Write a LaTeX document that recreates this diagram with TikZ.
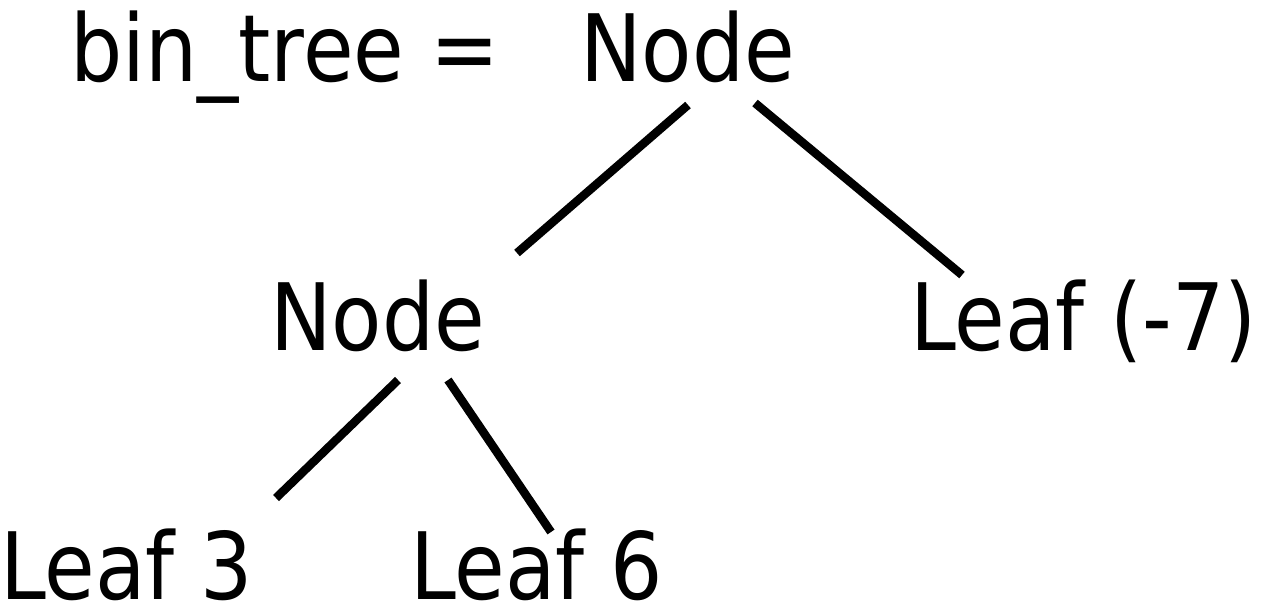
\documentclass[tikz,border=0pt]{standalone}
\usepackage{fontspec}
\setmainfont{DejaVu Sans}[FakeStretch=0.885]
\begin{document}
\begin{tikzpicture}[x=1pt,y=-1pt,
  lbl/.style={anchor=base west,inner sep=0pt,font=\fontsize{93}{100}\selectfont},
  edge/.style={line width=8.5pt}]
\useasboundingbox (0,0) rectangle (1264,611);
\node[lbl] (eq) at (70,81) {bin\_tree =};
\node[lbl] (root) at (580,81) {Node};
\node[lbl] (mid) at (270,350) {Node};
\node[lbl] (lm7) at (910,350) {Leaf (-7)};
\node[lbl] (l3) at (0,599) {Leaf 3};
\node[lbl] (l6) at (410,599) {Leaf 6};
\coordinate (r1) at (688,105);
\coordinate (m1) at (517,253);
\coordinate (r2) at (755,103);
\coordinate (n7) at (962,275);
\coordinate (m2) at (398,380);
\coordinate (a3) at (276,498);
\coordinate (m3) at (448,380);
\coordinate (a6) at (551,532);
\draw[edge] (r1) -- (m1);
\draw[edge] (r2) -- (n7);
\draw[edge] (m2) -- (a3);
\draw[edge] (m3) -- (a6);
\end{tikzpicture}
\end{document}
